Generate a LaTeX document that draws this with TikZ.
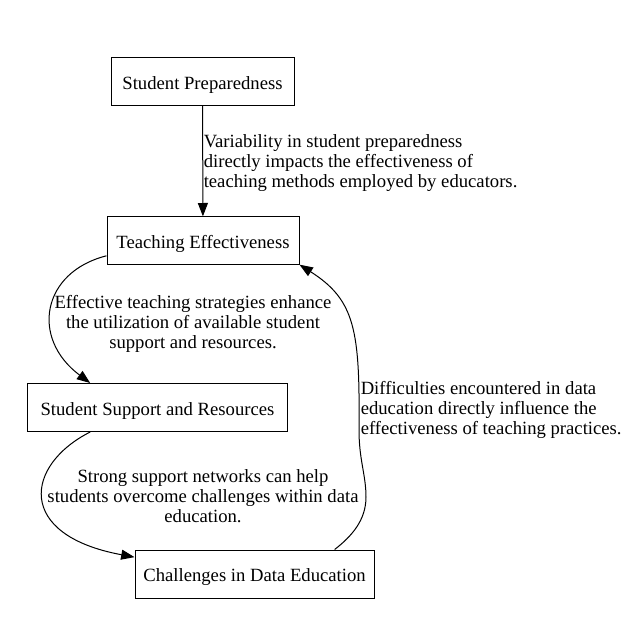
\documentclass[tikz,border=0pt]{standalone}
\usepackage{fontspec}
\setmainfont{Liberation Serif}
\usetikzlibrary{arrows.meta}
\begin{document}
\begin{tikzpicture}[x=0.75pt,y=-0.75pt,
  box/.style={draw, line width=0.75pt, inner sep=0pt, minimum height=35.5pt, text height=11.5pt, text depth=0pt, font=\fontsize{14pt}{15pt}\selectfont},
  lbl/.style={inner sep=0pt, font=\fontsize{14pt}{15pt}\selectfont},
  edge/.style={draw, line width=0.75pt, -{Triangle[length=10pt,width=7.5pt]}}]
\fill[white] (0,0) rectangle (625,625);
\useasboundingbox (0,0) rectangle (625,625);
\node[box, minimum width=137.25pt] (sp) at (202.5,81.5) {Student Preparedness};
\node[box, minimum width=144pt] (te) at (203,240.5) {Teaching Effectiveness};
\node[box, minimum width=195pt, minimum height=36pt] (ssr) at (157.5,407.5) {Student Support and Resources};
\node[box, minimum width=179.25pt, minimum height=36pt] (cde) at (254.5,574) {Challenges in Data Education};
\draw[edge] (sp) -- (te);
\draw[edge] (te.189) .. controls (42,272) and (30,338) .. (ssr.160);
\draw[edge] (ssr.200) .. controls (25,465) and (15,535) .. (cde.172);
\draw[edge] (cde.17) .. controls (352,536) and (366,520) .. (366,497) .. controls (366,475) and (359,460) .. (359,430) .. controls (360,330) and (355,300) .. (te.south east);
\node[lbl, align=left, anchor=west] (l1) at (203.5,163.5) {Variability in student preparedness\\directly impacts the effectiveness of\\teaching methods employed by educators.};
\node[lbl, align=center] (l2) at (193,324) {Effective teaching strategies enhance\\the utilization of available student\\support and resources.};
\node[lbl, align=center] (l3) at (203,496) {Strong support networks can help\\students overcome challenges within data\\education.};
\node[lbl, align=left, anchor=west] (l4) at (360.5,409.5) {Difficulties encountered in data\\education directly influence the\\effectiveness of teaching practices.};
\end{tikzpicture}
\end{document}
